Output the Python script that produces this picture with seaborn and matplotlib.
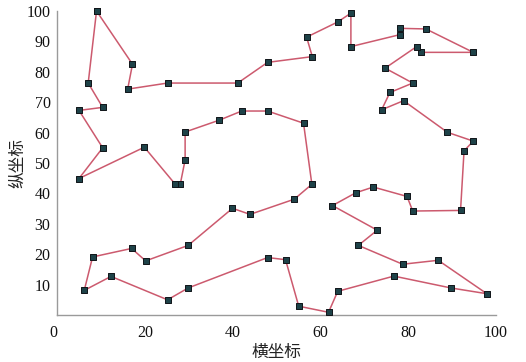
import matplotlib
matplotlib.use("Agg")
import matplotlib.pyplot as plt
import seaborn as sns
import pandas as pd

# Visiting order of the city tour (x, y)
tour_x = [8.9, 17.1, 16.0, 25.1, 41.1, 47.9, 58.1, 56.8, 63.9, 66.9, 66.9,
          78.0, 78.0, 84.0, 94.8, 82.9, 81.9, 74.7, 81.0, 75.8, 73.9, 78.9,
          88.9, 94.8, 92.7, 91.9, 81.0, 79.7, 72.0, 68.0, 62.7, 72.9, 68.6,
          78.7, 86.8, 97.9, 89.7, 76.7, 63.9, 61.8, 55.0, 52.0, 47.9, 29.8,
          25.1, 12.2, 6.1, 8.0, 16.9, 20.1, 29.8, 39.9, 43.9, 54.0, 58.0,
          56.1, 47.9, 42.0, 36.9, 29.1, 29.1, 28.0, 26.8, 19.8, 4.9, 10.3,
          4.9, 10.3, 7.0]
tour_y = [100.0, 82.5, 74.3, 76.3, 76.3, 83.1, 85.0, 91.4, 96.4, 99.3, 88.3,
          92.2, 94.3, 94.1, 86.4, 86.4, 88.3, 81.2, 76.3, 73.2, 67.5, 70.5,
          60.1, 57.2, 54.0, 34.4, 34.2, 39.0, 42.1, 40.2, 36.0, 27.9, 22.9,
          16.7, 18.0, 7.0, 8.9, 12.8, 7.8, 0.9, 2.9, 18.2, 18.9, 8.9,
          5.0, 12.7, 8.1, 19.1, 21.9, 17.8, 22.9, 35.1, 33.1, 38.1, 43.0,
          63.1, 67.1, 67.1, 64.1, 60.2, 51.0, 43.1, 43.1, 55.2, 44.9, 55.0,
          67.3, 68.3, 76.3]

x_ticks = [0, 20, 40, 60, 80, 100]
y_ticks = [10, 20, 30, 40, 50, 60, 70, 80, 90, 100]
x_label = "横坐标"
y_label = "纵坐标"

# closed route: return to the starting city
route = pd.DataFrame({
    "x": tour_x + tour_x[:1],
    "y": tour_y + tour_y[:1],
    "step": range(len(tour_x) + 1),
})

sns.set_theme(style="white")
plt.rcParams["font.family"] = ["Liberation Serif", "Noto Sans CJK SC"]

fig = plt.figure(figsize=(5.26, 3.62), dpi=100)
ax = fig.add_axes([0.1093, 0.1298, 0.8338, 0.8398])

sns.lineplot(data=route, x="x", y="y", sort=False, estimator=None,
             color="#cc5a6e", linewidth=1.1, ax=ax, zorder=2)
sns.scatterplot(data=route, x="x", y="y", marker="s", s=15,
                color="#1e4248", edgecolor="#101418", linewidth=0.7,
                ax=ax, zorder=3, clip_on=False)

ax.set_xlim(0, 100)
ax.set_ylim(0, 100)
ax.set_xticks(x_ticks)
ax.set_yticks(y_ticks)
ax.set_xticklabels([str(v) for v in x_ticks])
ax.set_yticklabels([str(v) for v in y_ticks])
ax.get_xticklabels()[0].set_horizontalalignment("right")

ax.tick_params(axis="both", direction="in", length=3, width=0.8,
               colors="#888888", labelcolor="#111111", labelsize=11.5)
ax.tick_params(axis="x", pad=7)
ax.tick_params(axis="y", pad=5)

for side in ("top", "right"):
    ax.spines[side].set_visible(False)
for side in ("left", "bottom"):
    ax.spines[side].set_color("#9a9a9a")
    ax.spines[side].set_linewidth(1.0)

ax.set_xlabel(x_label, fontsize=12, family=["Noto Sans CJK SC"], labelpad=2,
              color="#222222")
ax.set_ylabel(y_label, fontsize=12, family=["Noto Sans CJK SC"], labelpad=0,
              color="#222222")
ax.grid(False)

fig.savefig("out.png", dpi=100, facecolor="white")
